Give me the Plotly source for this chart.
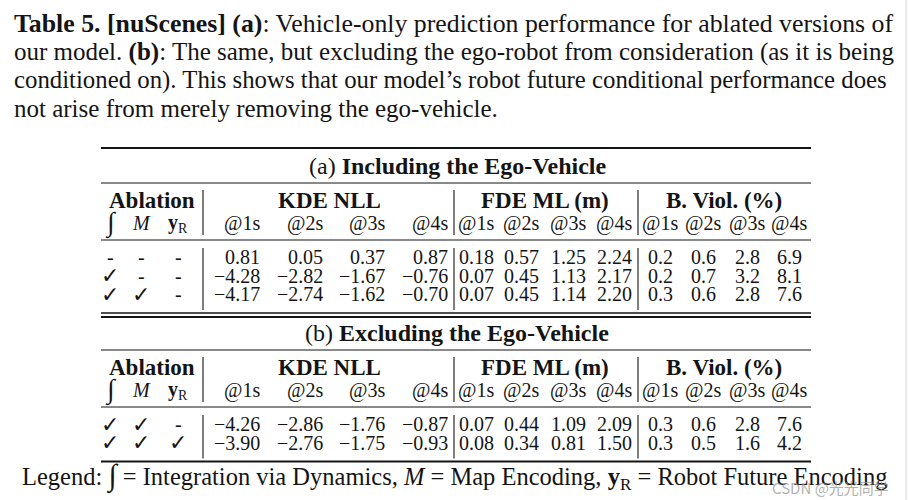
import plotly.graph_objects as go

# ---------------- data ----------------
caption_lines = [
    "<b>Table 5. [nuScenes] (a)</b>: Vehicle-only prediction performance for ablated versions of",
    "our model. <b>(b)</b>: The same, but excluding the ego-robot from consideration (as it is being",
    "conditioned on). This shows that our model’s robot future conditional performance does",
    "not arise from merely removing the ego-vehicle.",
]
section_titles = ["(a) <b>Including the Ego-Vehicle</b>", "(b) <b>Excluding the Ego-Vehicle</b>"]
group_headers = ["Ablation", "KDE NLL", "FDE ML (m)", "B. Viol. (%)"]
ablation_headers = ["<span style='font-size:27px'>∫</span>", "<i>M</i>", "<b>y</b><sub>R</sub>"]
horizon_labels = ["@1s", "@2s", "@3s", "@4s"]

abl_a = [["-", "-", "-"], ["✓", "-", "-"], ["✓", "✓", "-"]]
kde_a = [[0.81, 0.05, 0.37, 0.87], [-4.28, -2.82, -1.67, -0.76], [-4.17, -2.74, -1.62, -0.70]]
fde_a = [[0.18, 0.57, 1.25, 2.24], [0.07, 0.45, 1.13, 2.17], [0.07, 0.45, 1.14, 2.20]]
bv_a = [[0.2, 0.6, 2.8, 6.9], [0.2, 0.7, 3.2, 8.1], [0.3, 0.6, 2.8, 7.6]]

abl_b = [["✓", "✓", "-"], ["✓", "✓", "✓"]]
kde_b = [[-4.26, -2.86, -1.76, -0.87], [-3.90, -2.76, -1.75, -0.93]]
fde_b = [[0.07, 0.44, 1.09, 2.09], [0.08, 0.34, 0.81, 1.50]]
bv_b = [[0.3, 0.6, 2.8, 7.6], [0.3, 0.5, 1.6, 4.2]]

legend_text = ("Legend: <span style='font-size:30px'>∫</span> = Integration via Dynamics, "
               "<i>M</i> = Map Encoding, <b>y</b><sub>R</sub> = Robot Future Encoding")
watermark = "CSDN @光光同学"

# ---------------- layout / style ----------------
W, H = 908, 500
SERIF = "Liberation Serif, DejaVu Serif, serif"
INK = "#141414"
CAP_SIZES = [25.8, 25.0, 24.8, 25.0]
TAB_SIZE = 20
HEAD_SIZE = 23
TITLE_SIZE = 24
LEGEND_SIZE = 24.5

abl_x = [110, 141, 178]           # centres
kde_x = [262, 325, 387, 450]      # right edges
fde_x = [476, 521, 568, 614]      # centres
bv_x = [660, 703, 747, 789]       # centres
group_x = [152, 329, 545, 724]
vlines_x = [203, 454, 638]
rule_x0, rule_x1 = 101, 811
title_cx = 457

fig = go.Figure()
fig.update_xaxes(range=[0, W], visible=False, fixedrange=True)
fig.update_yaxes(range=[H, 0], visible=False, fixedrange=True)

ann = []
shapes = []


def text(x, y, s, size=TAB_SIZE, xanchor="center", color=INK, family=SERIF):
    ann.append(dict(x=x, y=y, xref="x", yref="y", text=s, showarrow=False,
                    xanchor=xanchor, yanchor="middle",
                    font=dict(family=family, size=size, color=color)))


def hline(y, width=1.2, x0=rule_x0, x1=rule_x1):
    shapes.append(dict(type="line", xref="x", yref="y", x0=x0, x1=x1, y0=y, y1=y,
                       line=dict(color=INK, width=width)))


def vline(x, y0, y1, width=1.1, color=INK):
    shapes.append(dict(type="line", xref="x", yref="y", x0=x, x1=x, y0=y0, y1=y1,
                       line=dict(color=color, width=width)))


def fmt2(v):
    return f"{v:.2f}".replace("-", "−")


# caption
cap_y = [23, 51.5, 80, 108]
for s, y, sz in zip(caption_lines, cap_y, CAP_SIZES):
    text(12, y, s, size=sz, xanchor="left")


def section(title_y, title, abl, kde, fde, bv):
    text(title_cx, title_y, title, size=TITLE_SIZE)
    hline(title_y + 17, 1.2)
    gh = title_y + 34
    sh = title_y + 57
    for s, x in zip(group_headers, group_x):
        text(x, gh, f"<b>{s}</b>", size=HEAD_SIZE)
    for s, x in zip(ablation_headers, abl_x):
        text(x, sh, s)
    for i, s in enumerate(horizon_labels):
        text(kde_x[i], sh, s, xanchor="right")
        text(fde_x[i], sh, s)
        text(bv_x[i], sh, s)
    for x in vlines_x:
        vline(x, gh - 10, sh + 12)
    hline(title_y + 74, 1.2)
    d0 = title_y + 91
    step = 18.5
    n = len(kde)
    for r in range(n):
        y = d0 + r * step
        for j, s in enumerate(abl[r]):
            text(abl_x[j], y, s, size=TAB_SIZE + 2 if s == "✓" else TAB_SIZE)
        for j in range(4):
            text(kde_x[j], y, fmt2(kde[r][j]), xanchor="right")
            text(fde_x[j], y, fmt2(fde[r][j]))
            text(bv_x[j], y, f"{bv[r][j]:.1f}")
    last = d0 + (n - 1) * step
    for x in vlines_x:
        vline(x, d0 - 9, last + 16)
    return last + 19


hline(148, 2.0)
bottom_a = section(166, section_titles[0], abl_a, kde_a, fde_a, bv_a)
hline(bottom_a, 1.3)
hline(bottom_a + 4, 2.0)
bottom_b = section(333, section_titles[1], abl_b, kde_b, fde_b, bv_b)
hline(bottom_b, 2.0)

text(20, 476, legend_text, size=LEGEND_SIZE, xanchor="left")
text(830, 487, watermark, size=15, xanchor="center", color="rgba(150,150,150,0.75)",
     family="Noto Sans CJK SC, Noto Sans, sans-serif")

# faint right border of the scanned page
vline(906, 0, H, width=1.5, color="#e4e4e4")

fig.update_layout(width=W, height=H, margin=dict(l=0, r=0, t=0, b=0),
                  paper_bgcolor="white", plot_bgcolor="white",
                  annotations=ann, shapes=shapes, showlegend=False)
fig.write_html("out.html", config={"displayModeBar": False},
               post_script="document.body.style.margin='0';document.body.style.overflow='hidden';")
